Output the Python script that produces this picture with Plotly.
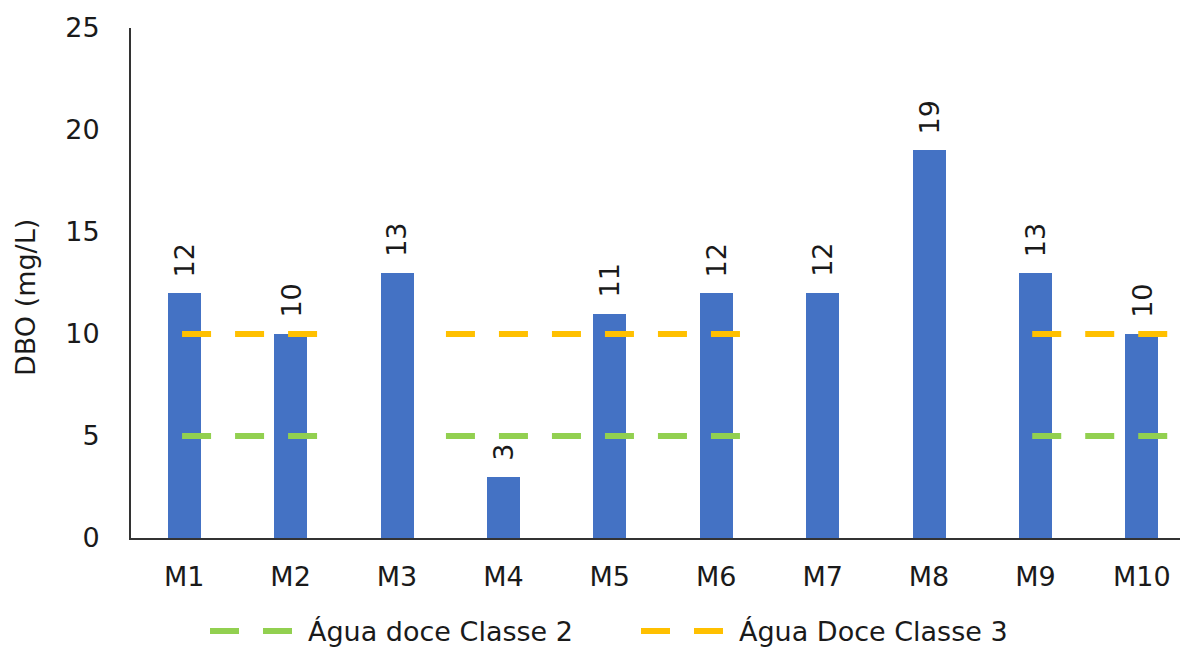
import plotly.graph_objects as go

# ---- data ----
categories = ["M1", "M2", "M3", "M4", "M5", "M6", "M7", "M8", "M9", "M10"]
dbo_values = [12, 10, 13, 3, 11, 12, 12, 19, 13, 10]

# reference limit lines (category-index units along x; None = gap)
limit_x = [-0.02, 1.25, None, 2.46, 5.23, None, 7.97, 9.24]
classe2_y = [5, 5, None, 5, 5, None, 5, 5]
classe3_y = [10, 10, None, 10, 10, None, 10, 10]

y_ticks = [0, 5, 10, 15, 20, 25]

FONT = "DejaVu Sans"
TXT = "#1a1a1a"
FS = 27
idx = list(range(len(categories)))

fig = go.Figure()
fig.add_trace(go.Bar(
    x=idx, y=dbo_values, width=0.31,
    marker=dict(color="#4472C4", line=dict(width=0)),
    showlegend=False, name="DBO",
))
fig.add_trace(go.Scatter(
    x=limit_x, y=classe2_y, mode="lines", name="Água doce Classe 2",
    line=dict(color="#92D050", width=6, dash="29px,24px"),
    connectgaps=False,
))
fig.add_trace(go.Scatter(
    x=limit_x, y=classe3_y, mode="lines", name="Água Doce Classe 3",
    line=dict(color="#FFC000", width=6, dash="29px,24px"),
    connectgaps=False,
))

for i, v in zip(idx, dbo_values):
    fig.add_annotation(
        x=i, y=v, text=str(v), showarrow=False, textangle=-90,
        xanchor="center", yanchor="bottom", yshift=14,
        font=dict(family=FONT, size=FS, color=TXT),
    )

fig.add_annotation(
    xref="paper", yref="paper", x=-0.0993, y=0.4706,
    text="DBO (mg/L)", showarrow=False, textangle=-90,
    xanchor="center", yanchor="middle",
    font=dict(family=FONT, size=FS, color=TXT),
)

fig.update_layout(
    width=1180, height=644,
    margin=dict(l=123, r=0, t=20, b=114, autoexpand=False),
    paper_bgcolor="white", plot_bgcolor="white",
    font=dict(family=FONT, size=FS, color=TXT),
    bargap=0,
    legend=dict(
        orientation="h", x=0.070, xanchor="left", y=-0.183, yanchor="middle",
        itemwidth=93, entrywidth=323, entrywidthmode="pixels",
        font=dict(family=FONT, size=FS, color=TXT),
        bgcolor="rgba(0,0,0,0)", traceorder="normal",
    ),
    xaxis=dict(
        type="linear", range=[-0.5, 9.434],
        tickmode="array", tickvals=idx, ticktext=categories,
        showgrid=False, zeroline=False, showline=True,
        linecolor="#333333", linewidth=2, ticks="",
        ticklabelstandoff=14,
        tickfont=dict(family=FONT, size=FS, color=TXT),
    ),
    yaxis=dict(
        range=[0, 25], tickmode="array", tickvals=y_ticks,
        showgrid=False, zeroline=False, showline=True,
        linecolor="#333333", linewidth=2, ticks="",
        ticklabelstandoff=24,
        tickfont=dict(family=FONT, size=FS, color=TXT),
    ),
)

fig.write_html("out.html")
